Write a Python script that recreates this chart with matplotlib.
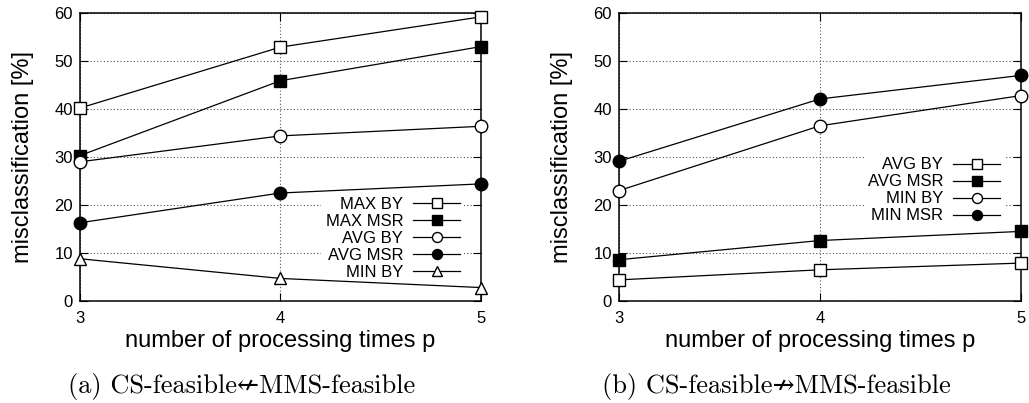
import matplotlib
matplotlib.use("Agg")
import matplotlib.pyplot as plt

# Number of processing times p
p_values = [3, 4, 5]
x_ticks = [3, 4, 5]
y_ticks = [0, 10, 20, 30, 40, 50, 60]

# (a) CS-feasible <-/- MMS-feasible
a_labels = ["MAX BY", "MAX MSR", "AVG BY", "AVG MSR", "MIN BY"]
a_max_by = [40.2, 52.9, 59.2]
a_max_msr = [30.3, 45.9, 53.0]
a_avg_by = [29.0, 34.4, 36.4]
a_avg_msr = [16.3, 22.5, 24.4]
a_min_by = [8.8, 4.7, 2.8]

# (b) CS-feasible -/-> MMS-feasible
b_labels = ["AVG BY", "AVG MSR", "MIN BY", "MIN MSR"]
b_avg_by = [4.4, 6.5, 7.9]
b_avg_msr = [8.6, 12.6, 14.5]
b_min_by = [23.0, 36.5, 42.8]
b_min_msr = [29.1, 42.1, 47.0]

caption_a = "(a) CS-feasible\u219aMMS-feasible"
caption_b = "(b) CS-feasible\u219bMMS-feasible"

plt.rcParams["font.family"] = ["Liberation Sans", "DejaVu Sans"]

fig = plt.figure(figsize=(10.29, 4.03), dpi=100)
ax_a = fig.add_axes([0.0777, 0.2531, 0.3897, 0.7146])
ax_b = fig.add_axes([0.6015, 0.2531, 0.3907, 0.7146])

marker_styles = {
    "sq_open": dict(marker="s", mfc="white", mec="black"),
    "sq_fill": dict(marker="s", mfc="black", mec="black"),
    "ci_open": dict(marker="o", mfc="white", mec="black"),
    "ci_fill": dict(marker="o", mfc="black", mec="black"),
    "tr_open": dict(marker="^", mfc="white", mec="black"),
}

series_a = [
    (a_max_by, "sq_open"),
    (a_max_msr, "sq_fill"),
    (a_avg_by, "ci_open"),
    (a_avg_msr, "ci_fill"),
    (a_min_by, "tr_open"),
]
series_b = [
    (b_avg_by, "sq_open"),
    (b_avg_msr, "sq_fill"),
    (b_min_by, "ci_open"),
    (b_min_msr, "ci_fill"),
]


def style_axes(ax):
    ax.set_xlim(3, 5)
    ax.set_ylim(0, 60)
    ax.set_xticks(x_ticks)
    ax.set_yticks(y_ticks)
    ax.tick_params(axis="both", which="major", direction="in", length=5.5,
                   width=0.8, labelsize=12, top=True, right=True, colors="black")
    ax.tick_params(axis="x", pad=7)
    ax.tick_params(axis="y", pad=5)
    for sp in ax.spines.values():
        sp.set_linewidth(1.1)
        sp.set_zorder(4)
    ax.grid(True, color="#555555", linestyle=(0, (1, 2)), linewidth=0.8)
    ax.set_axisbelow(True)
    ax.set_xlabel("number of processing times p", fontsize=17)
    ax.set_ylabel("misclassification [%]", fontsize=17)
    ax.xaxis.set_label_coords(0.5, -0.10)
    ax.yaxis.set_label_coords(-0.115, 0.5)


def draw(ax, series, labels, legend_y):
    for (vals, key), lab in zip(series, labels):
        ax.plot(p_values, vals, color="black", linewidth=0.9, markersize=9,
                markeredgewidth=1.0, label=lab, clip_on=False, zorder=5,
                **marker_styles[key])
    leg = ax.legend(loc="center right", bbox_to_anchor=(0.958, legend_y),
                    markerfirst=False, frameon=True, fontsize=12,
                    markerscale=0.8,
                    handlelength=2.8, handletextpad=0.6, labelspacing=0.12,
                    borderpad=0.25, borderaxespad=0.0, fancybox=False)
    leg.get_frame().set_facecolor("white")
    leg.get_frame().set_edgecolor("none")
    leg.get_frame().set_alpha(1.0)
    leg.set_zorder(3)


style_axes(ax_a)
style_axes(ax_b)
draw(ax_a, series_a, a_labels, 0.218)
draw(ax_b, series_b, b_labels, 0.384)

cap_font = ["cmr10", "DejaVu Serif"]
fig.text(0.2347, 0.040, caption_a, ha="center", va="center", fontsize=19,
         family=cap_font)
fig.text(0.7546, 0.040, caption_b, ha="center", va="center", fontsize=19,
         family=cap_font)

fig.savefig("out.png", dpi=100)
